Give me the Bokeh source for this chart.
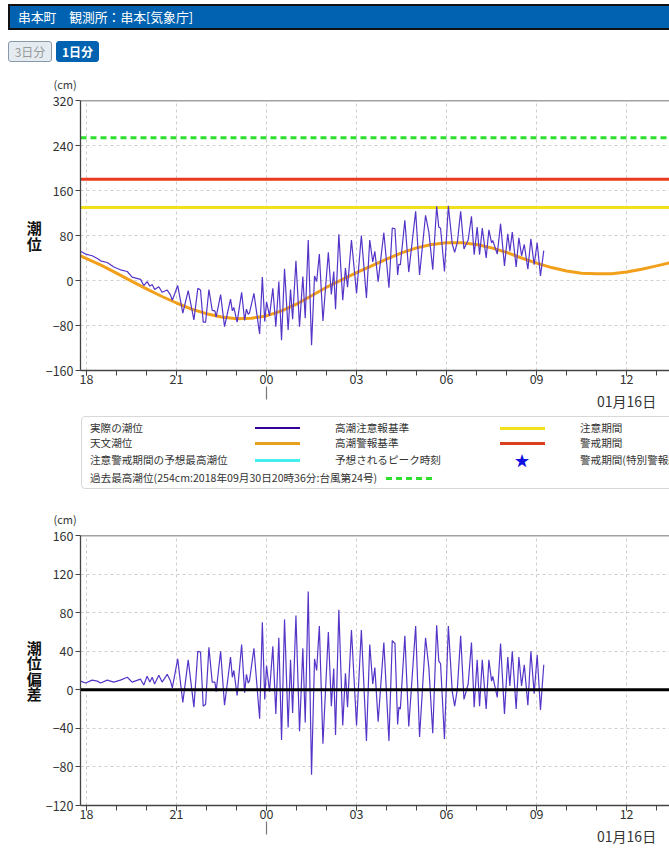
from bokeh.plotting import figure
from bokeh.models import Range1d, FixedTicker, Span, Title, Div, LinearAxis
from bokeh.layouts import column
from bokeh.embed import file_html
from bokeh.resources import INLINE

FONT = "Noto Sans CJK JP"

# ---------------- data (hours since 2022-01-15 00:00, cm) ----------------
TIME_H = [17.80, 17.97, 18.19, 18.36, 18.47, 18.69, 18.91, 19.13, 19.36, 19.52,
          19.80, 19.91, 20.02, 20.11, 20.19, 20.27, 20.41, 20.52, 20.69, 20.80,
          20.86, 21.04, 21.21, 21.39, 21.58, 21.71, 21.80, 21.89, 21.97, 22.08,
          22.19, 22.28, 22.32, 22.47, 22.60, 22.69, 22.80, 22.86, 22.91, 23.02,
          23.17, 23.27, 23.33, 23.39, 23.43, 23.58, 23.77, 23.86, 23.94, 24.00,
          24.10, 24.21, 24.31, 24.41, 24.50, 24.60, 24.72, 24.80, 24.87, 24.98,
          25.10, 25.21, 25.29, 25.39, 25.50, 25.60, 25.67, 25.76, 25.88, 26.06,
          26.16, 26.24, 26.30, 26.41, 26.54, 26.63, 26.70, 26.83, 27.00, 27.16,
          27.33, 27.44, 27.54, 27.61, 27.72, 27.91, 28.08, 28.19, 28.28, 28.37,
          28.41, 28.46, 28.61, 28.74, 28.97, 29.10, 29.30, 29.41, 29.54, 29.67,
          29.74, 29.80, 29.93, 30.06, 30.19, 30.27, 30.36, 30.47, 30.58, 30.72,
          30.83, 30.92, 31.02, 31.10, 31.19, 31.32, 31.41, 31.50, 31.54, 31.69,
          31.80, 31.93, 32.04, 32.11, 32.19, 32.32, 32.41, 32.50, 32.59, 32.71,
          32.81, 32.92, 33.02, 33.13, 33.24]

DEVIATION_CM = [9, 7, 10, 9, 7, 10, 8, 10, 13, 8,
                11, 5, 14, 8, 13, 6, 15, 8, 16, 9,
                2, 32, -13, 31, -18, 40, 39, -17, -15, 44,
                8, 8, -2, 40, -16, 6, 34, 13, 20, -6,
                47, -3, 16, 7, 9, 43, -30, 70, -10, 25,
                -2, 45, -25, 54, -52, 73, -39, 31, -24, 77,
                -43, 43, -34, 102, -88, 32, 20, 66, -56, 60,
                -17, 22, -47, 83, -37, 17, -18, 62, -37, 62,
                -53, 47, 6, 23, -33, 49, -53, 51, 48, -36,
                -18, -20, 56, -38, 66, -49, 54, 23, -45, 67,
                30, 27, -51, 66, -2, -17, 1, 56, -10, 6,
                49, -18, 31, -17, 31, -20, 31, 9, 14, -8,
                48, -25, 34, 4, 40, -20, 34, 4, 26, -16,
                40, -4, 36, -21, 26]

OBSERVED_CM = [52, 47, 44, 39, 35, 32, 24, 19, 16, 6,
               2, -9, -2, -10, -7, -16, -11, -21, -17, -26,
               -35, -9, -58, -18, -70, -14, -17, -74, -74, -16,
               -53, -54, -65, -25, -82, -60, -33, -54, -48, -74,
               -21, -71, -51, -60, -58, -23, -95, 6, -73, -38,
               -63, -14, -82, -2, -106, 21, -88, -16, -69, 35,
               -82, 7, -67, 72, -115, 8, -2, 47, -72, 50,
               -25, 16, -51, 82, -35, 22, -12, 72, -23, 80,
               -31, 72, 33, 52, -2, 85, -13, 93, 92, 10,
               29, 28, 107, 15, 123, 10, 116, 86, 19, 132,
               95, 93, 16, 133, 65, 50, 68, 123, 56, 72,
               114, 46, 95, 46, 93, 40, 90, 67, 71, 47,
               101, 26, 83, 52, 86, 24, 76, 44, 64, 20,
               74, 28, 67, 8, 53]

ASTRO_TIME_H = [17.5, 18.0, 18.5, 19.0, 19.5, 20.0, 20.5, 21.0, 21.5, 22.0,
                22.5, 23.0, 23.5, 24.0, 24.5, 25.0, 25.5, 26.0, 26.5, 27.0,
                27.5, 28.0, 28.5, 29.0, 29.5, 30.0, 30.5, 31.0, 31.5, 32.0,
                32.5, 33.0, 33.5, 34.0, 34.5, 35.0, 35.5, 36.0, 36.5, 37.0, 37.5]
ASTRO_CM = [51, 39, 27, 13, -1, -15, -28, -40, -51, -59,
            -65, -68, -67, -63, -54, -42, -27, -12, 1, 14,
            26, 38, 49, 58, 64, 67, 67, 64, 58, 50,
            40, 31, 23, 17, 13, 12, 12, 15, 20, 26, 32]

ADVISORY_LEVEL = 130   # 高潮注意報基準
WARNING_LEVEL = 180    # 高潮警報基準
RECORD_LEVEL = 254     # 過去最高潮位
ZERO_LEVEL = 0

X_START, X_END = 17.8, 37.43
X_TICKS = [18, 21, 24, 27, 30, 33, 36]
X_TICK_LABELS = ["18", "21", "00", "03", "06", "09", "12"]
X_MINOR_TICKS = list(range(18, 38))
DAY_CHANGE_H = [24]
DATE_TICK_H = [36]
DATE_LABEL = "01月16日"

Y1_RANGE = (-160, 320)
Y1_TICKS = [-160, -80, 0, 80, 160, 240, 320]
Y2_RANGE = (-120, 160)
Y2_TICKS = [-120, -80, -40, 0, 40, 80, 120, 160]

TITLE = "串本町　観測所：串本[気象庁]"
UNIT = "(cm)"

C_OBS = "#5535c8"
C_ASTRO = "#f2a01c"
C_WARN = "#ec3a1c"
C_ADV = "#f2e01a"
C_REC = "#2ee02e"
C_CYAN = "#44eeee"
C_TEXT = "#333333"
C_AXIS = "#444444"


def make_fig(yr, yticks, ylabel):
    p = figure(frame_width=589, frame_height=270, x_range=Range1d(X_START, X_END),
               y_range=Range1d(*yr), output_backend="svg", toolbar_location=None,
               title=None, min_border_left=80, min_border_right=0,
               min_border_top=0, min_border_bottom=0, margin=0)
    p.outline_line_color = None
    p.xaxis.ticker = FixedTicker(ticks=X_TICKS, minor_ticks=X_MINOR_TICKS)
    p.xaxis.major_label_overrides = {t: l for t, l in zip(X_TICKS, X_TICK_LABELS)}
    p.yaxis.ticker = FixedTicker(ticks=yticks, minor_ticks=[])
    for ax in (p.xaxis, p.yaxis):
        ax.axis_line_color = C_AXIS
        ax.axis_line_width = 1.3
        ax.major_tick_line_color = C_AXIS
        ax.minor_tick_line_color = C_AXIS
        ax.major_tick_in = 0
        ax.major_tick_out = 5
        ax.minor_tick_in = 0
        ax.minor_tick_out = 5
        ax.major_label_text_font = FONT
        ax.major_label_text_font_size = "12.5px"
        ax.major_label_text_color = C_TEXT
    p.xaxis.major_label_standoff = -2
    p.yaxis.major_label_standoff = 2
    p.yaxis.axis_label = ylabel
    p.yaxis.axis_label_orientation = "horizontal"
    p.yaxis.axis_label_text_font = FONT
    p.yaxis.axis_label_text_font_size = "15px"
    p.yaxis.axis_label_text_font_style = "bold"
    p.yaxis.axis_label_text_color = "#111111"
    p.yaxis.axis_label_text_line_height = 0.74
    p.yaxis.axis_label_standoff = 1
    p.grid.grid_line_color = "#cfcfcf"
    p.grid.grid_line_dash = "3 3"
    p.grid.grid_line_width = 1
    p.add_layout(Span(location=yr[1], dimension="width", line_color=C_AXIS, line_width=1.5))
    p.add_layout(Title(text=UNIT, align="left", offset=-27, standoff=18,
                       text_font=FONT, text_font_size="11px", text_font_style="normal",
                       text_color=C_TEXT), "above")
    # second row under the time axis: day-change mark and date
    day_ax = LinearAxis(ticker=FixedTicker(ticks=DATE_TICK_H, minor_ticks=DAY_CHANGE_H),
                        major_label_overrides={DATE_TICK_H[0]: DATE_LABEL})
    day_ax.axis_line_color = None
    day_ax.major_tick_line_color = None
    day_ax.minor_tick_line_color = "#777777"
    day_ax.minor_tick_line_width = 1.2
    day_ax.minor_tick_in = 0
    day_ax.minor_tick_out = 13
    day_ax.major_label_standoff = -9
    day_ax.major_label_text_font = FONT
    day_ax.major_label_text_font_size = "14px"
    day_ax.major_label_text_color = C_TEXT
    p.add_layout(day_ax, "below")
    return p


# ---------------- top chart: tide level ----------------
p1 = make_fig(Y1_RANGE, Y1_TICKS, "潮\n位")
p1.add_layout(Span(location=RECORD_LEVEL, dimension="width", line_color=C_REC,
                   line_width=3, line_dash="6 4", level="underlay"))
p1.add_layout(Span(location=WARNING_LEVEL, dimension="width", line_color=C_WARN,
                   line_width=3, level="underlay"))
p1.add_layout(Span(location=ADVISORY_LEVEL, dimension="width", line_color=C_ADV,
                   line_width=3, level="underlay"))
p1.line(ASTRO_TIME_H, ASTRO_CM, line_color=C_ASTRO, line_width=3)
p1.line(TIME_H, OBSERVED_CM, line_color=C_OBS, line_width=1.2)

# ---------------- bottom chart: deviation ----------------
p2 = make_fig(Y2_RANGE, Y2_TICKS, "潮\n位\n偏\n差")
p2.line(TIME_H, DEVIATION_CM, line_color=C_OBS, line_width=1.2)
p2.add_layout(Span(location=ZERO_LEVEL, dimension="width", line_color="black", line_width=3))

# ---------------- header + buttons ----------------
header_html = f"""
<div style="position:relative;width:669px;height:64px;font-family:'{FONT}',sans-serif;">
  <div style="position:absolute;left:8px;top:4px;width:661px;height:26px;box-sizing:border-box;
       background:#0062b0;border-top:2px solid #111;border-bottom:2px solid #111;border-left:2px solid #111;
       color:white;font-size:12.8px;line-height:22px;padding-left:8px;white-space:nowrap;">{TITLE}</div>
  <div style="position:absolute;left:8px;top:41px;width:44px;height:21px;box-sizing:border-box;
       background:#e4ecf2;border:1px solid #8899aa;border-radius:3px;color:#999;font-size:12px;
       line-height:19px;text-align:center;">3日分</div>
  <div style="position:absolute;left:56px;top:41px;width:43px;height:21px;box-sizing:border-box;
       background:#0062b0;border:1px solid #0062b0;border-radius:3px;color:white;font-size:12px;
       font-weight:bold;line-height:19px;text-align:center;">1日分</div>
</div>"""
div_head = Div(text=header_html, width=669, height=64, margin=0)


# ---------------- legend ----------------
def t(x, y, s):
    return (f'<div style="position:absolute;left:{x}px;top:{y-8}px;line-height:16px;'
            f'white-space:nowrap;">{s}</div>')


def sw(x1, x2, y, color, w):
    return (f'<div style="position:absolute;left:{x1}px;top:{y - w / 2}px;width:{x2 - x1}px;'
            f'height:{w}px;background:{color};"></div>')


rows = [15, 30, 47, 65]
items = [
    t(90, rows[0], "実際の潮位"), sw(255, 300, rows[0], "#330099", 1.5),
    t(335, rows[0], "高潮注意報基準"), sw(500, 545, rows[0], C_ADV, 3),
    t(580, rows[0], "注意期間"),
    t(90, rows[1], "天文潮位"), sw(255, 300, rows[1], "#e8a020", 3),
    t(335, rows[1], "高潮警報基準"), sw(500, 545, rows[1], "#d84020", 3),
    t(580, rows[1], "警戒期間"),
    t(90, rows[2], "注意警戒期間の予想最高潮位"), sw(255, 300, rows[2], C_CYAN, 3),
    t(335, rows[2], "予想されるピーク時刻"),
    f'<div style="position:absolute;left:514px;top:{rows[2]-9}px;width:16px;text-align:center;'
    f'line-height:18px;font-size:15px;color:#1010e0;">★</div>',
    t(580, rows[2], "警戒期間(特別警報級)"),
    t(90, rows[3], "過去最高潮位(254cm:2018年09月30日20時36分:台風第24号)"),
    f'<div style="position:absolute;left:386px;top:{rows[3]-1.5}px;width:46px;height:3px;'
    f'background:repeating-linear-gradient(to right,{C_REC} 0px,{C_REC} 6px,transparent 6px,transparent 10px);"></div>',
]
legend_html = f"""
<div style="position:relative;width:669px;height:86px;overflow:hidden;font-family:'{FONT}',sans-serif;
     font-size:10.6px;color:#333;">
  <div style="position:absolute;left:81px;top:3px;width:620px;height:73px;box-sizing:border-box;
       border:1px solid #d8d8d8;border-radius:4px;"></div>
  {''.join(items)}
</div>"""
div_leg = Div(text=legend_html, width=669, height=86, margin=0)

layout = column(div_head, p1, div_leg, p2, spacing=0)

open("out.html", "w").write(file_html(layout, INLINE))
